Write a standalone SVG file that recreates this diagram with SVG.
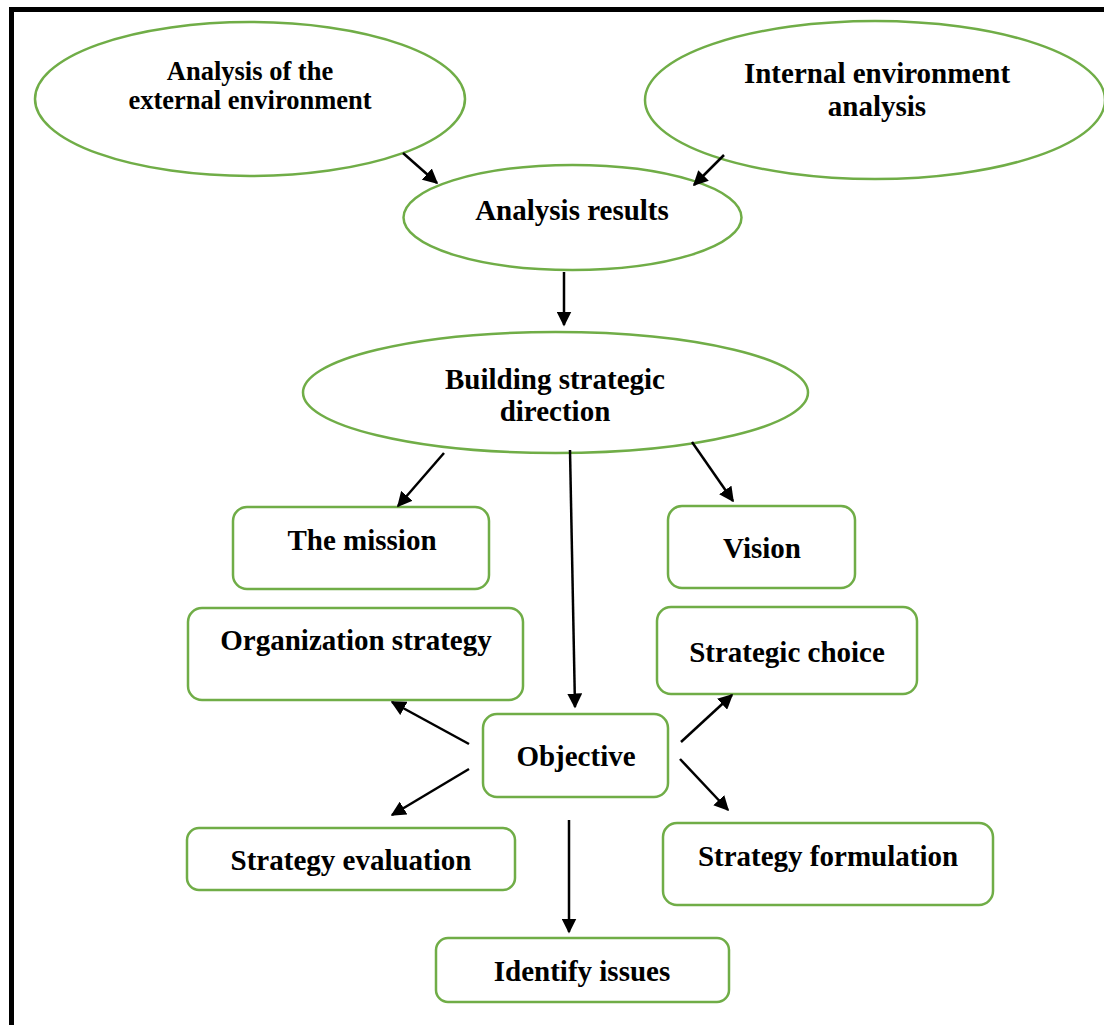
<svg xmlns="http://www.w3.org/2000/svg" width="1104" height="1025" viewBox="0 0 1104 1025">
<style>
.n{fill:#fff;stroke:#70ad47;stroke-width:2.5}
.t{font-family:"Liberation Serif","Times New Roman",serif;font-weight:bold;font-size:29px;fill:#000;text-anchor:middle}
.s{font-size:26.5px}
.c line{stroke:#000;stroke-width:2.5}
</style>
<defs>
<marker id="a" viewBox="0 0 10 10" refX="9" refY="5" markerWidth="6" markerHeight="6" orient="auto" markerUnits="strokeWidth">
<path d="M0,0 L10,5 L0,10 z" fill="#000"/>
</marker>
</defs>
<rect x="11.5" y="9.5" width="1110" height="1030" fill="#fff" stroke="#000" stroke-width="5"/>
<g id="ext"><ellipse class="n" cx="250" cy="99" rx="215" ry="77"/><text class="t s" x="250" y="80">Analysis of the</text><text class="t s" x="250" y="109">external environment</text></g>
<g id="int"><ellipse class="n" cx="875" cy="100" rx="230" ry="79"/><text class="t" x="877" y="83">Internal environment</text><text class="t" x="877" y="116">analysis</text></g>
<g id="res"><ellipse class="n" cx="572.5" cy="217.5" rx="169" ry="52.5"/><text class="t" x="572" y="220">Analysis results</text></g>
<g id="bsd"><ellipse class="n" cx="555.5" cy="392.5" rx="252.5" ry="60.5"/><text class="t" x="555" y="389">Building strategic</text><text class="t" x="555" y="421">direction</text></g>
<g id="mission"><rect class="n" x="233" y="507" width="256" height="82" rx="14"/><text class="t" x="362" y="550">The mission</text></g>
<g id="vision"><rect class="n" x="668" y="506" width="187" height="82" rx="14"/><text class="t" x="762" y="558">Vision</text></g>
<g id="org"><rect class="n" x="188" y="608" width="335" height="92" rx="14"/><text class="t" x="356" y="650">Organization strategy</text></g>
<g id="choice"><rect class="n" x="657" y="607" width="260" height="87" rx="14"/><text class="t" x="787" y="662">Strategic choice</text></g>
<g id="obj"><rect class="n" x="483" y="714" width="185" height="83" rx="14"/><text class="t" x="576" y="766">Objective</text></g>
<g id="eval"><rect class="n" x="187" y="828" width="328" height="62" rx="12"/><text class="t" x="351" y="870">Strategy evaluation</text></g>
<g id="form"><rect class="n" x="663" y="823" width="330" height="82" rx="14"/><text class="t" x="828" y="866">Strategy formulation</text></g>
<g id="issues"><rect class="n" x="436" y="938" width="293" height="64" rx="12"/><text class="t" x="582" y="981">Identify issues</text></g>
<g class="c">
<line x1="403" y1="153" x2="437" y2="183" marker-end="url(#a)"/>
<line x1="724" y1="155" x2="694" y2="185" marker-end="url(#a)"/>
<line x1="564" y1="272" x2="564" y2="325" marker-end="url(#a)"/>
<line x1="444" y1="453" x2="398" y2="506" marker-end="url(#a)"/>
<line x1="570" y1="450" x2="575" y2="707" marker-end="url(#a)"/>
<line x1="692" y1="442" x2="733" y2="501" marker-end="url(#a)"/>
<line x1="469" y1="744" x2="392" y2="702" marker-end="url(#a)"/>
<line x1="469" y1="769" x2="392" y2="815" marker-end="url(#a)"/>
<line x1="681" y1="742" x2="732" y2="695" marker-end="url(#a)"/>
<line x1="680" y1="759" x2="728" y2="810" marker-end="url(#a)"/>
<line x1="569" y1="820" x2="569" y2="932" marker-end="url(#a)"/>
</g>
</svg>
